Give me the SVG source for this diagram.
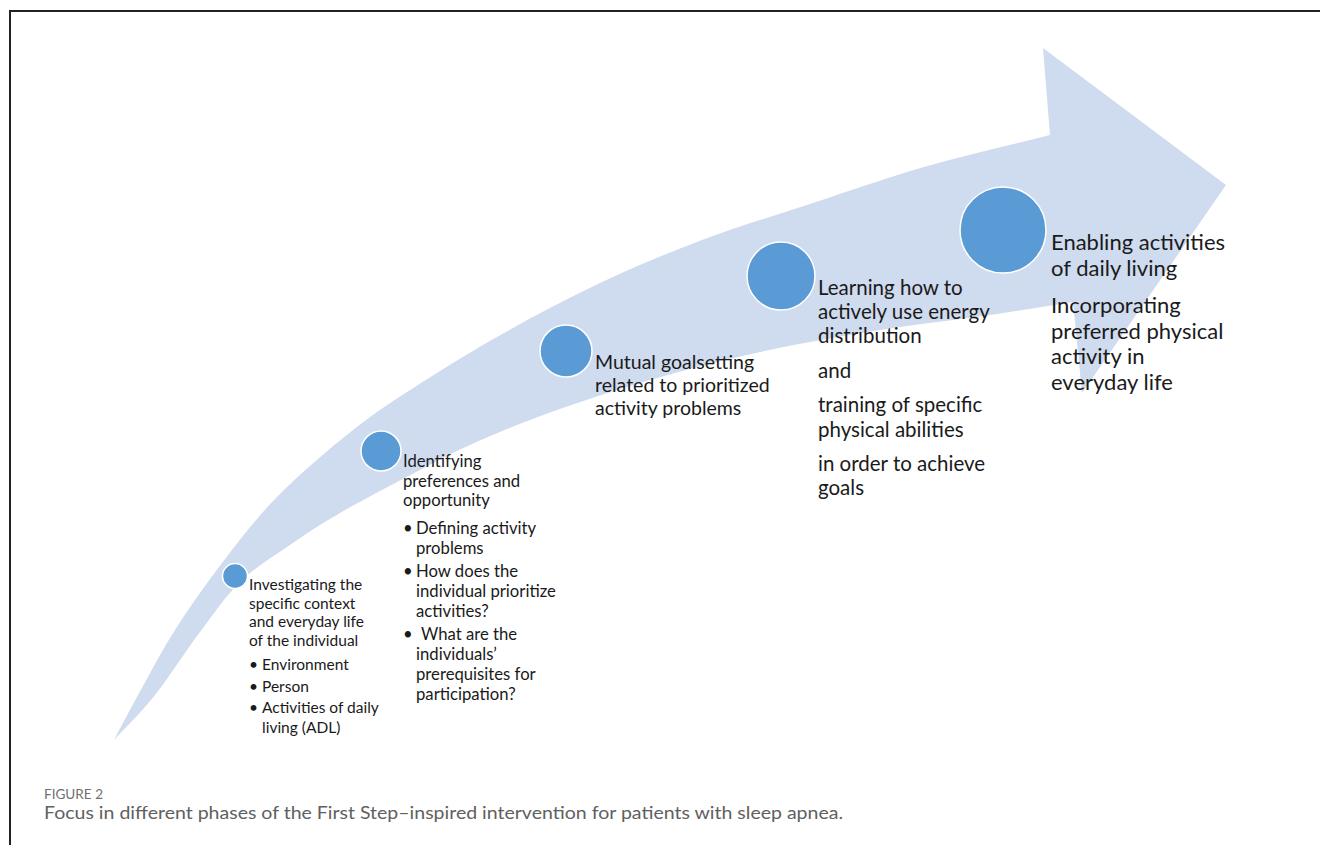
<svg xmlns="http://www.w3.org/2000/svg" width="1320" height="845" viewBox="0 0 1320 845">
  <style>
    .step { fill: #5b9bd5; stroke: #ffffff; stroke-width: 1.5; }
    .lbl { font-family: Lato, "Open Sans", "Liberation Sans", sans-serif; fill: #1a1a1a; }
    .s1 { font-size: 15.5px; }
    .s2 { font-size: 16.7px; }
    .s3 { font-size: 19.5px; }
    .s4 { font-size: 20.5px; }
    .s5 { font-size: 22px; }
    .cap { font-family: Lato, "Liberation Sans", Arial, sans-serif; }
  </style>

  <rect x="0" y="0" width="1320" height="845" fill="#ffffff"/>

  <!-- frame lines along the top and left -->
  <path d="M10,845 V11 H1320" fill="none" stroke="#222222" stroke-width="2"/>

  <!-- curved progress arrow behind the steps -->
  <g id="connectors">
    <path id="progress-arrow" fill="#cfdbee"
      d="M114,740
         C121.7,725.7 126.8,715.3 137,697
         C147.2,678.7 160.8,652.3 175,630
         C189.2,607.7 205,585.2 222,563
         C239,540.8 255.2,519.2 277,497
         C298.8,474.8 329,449 353,430
         C377,411 395.8,399.2 421,383
         C446.2,366.8 474.2,349.7 504,333
         C533.8,316.3 567,298.5 600,283
         C633,267.5 666.5,253.3 702,240
         C737.5,226.7 776,215.2 813,203
         C850,190.8 884.5,178.3 924,167
         C963.5,155.7 1008,145.7 1050,135
         L1043,48 L1226,185 L1082,393 L1073,302
         C1045.3,306.3 1022.2,310.3 990,315
         C957.8,319.7 918.3,323.8 880,330
         C841.7,336.2 798.3,343.7 760,352
         C721.7,360.3 685.7,369.7 650,380
         C614.3,390.3 576,403.2 546,414
         C516,424.8 491,435.7 470,445
         C449,454.3 441.7,458.7 420,470
         C398.3,481.3 362.2,500.2 340,513
         C317.8,525.8 303.7,535.5 287,547
         C270.3,558.5 254.5,567.8 240,582
         C225.5,596.2 214.2,613.2 200,632
         C185.8,650.8 169.3,677 155,695
         C140.7,713 127.7,725 114,740 Z"/>
  </g>

  <!-- step 1 -->
  <g id="step1">
    <circle class="step" cx="235" cy="576" r="12.5"/>
    <text class="lbl s1" x="249" y="590">Investigating the</text>
    <text class="lbl s1" x="249" y="608.5">specific context</text>
    <text class="lbl s1" x="249" y="627">and everyday life</text>
    <text class="lbl s1" x="249" y="645.5">of the individual</text>
    <text class="lbl s1" x="249" y="670">•</text>
    <text class="lbl s1" x="262" y="670">Environment</text>
    <text class="lbl s1" x="249" y="691.5">•</text>
    <text class="lbl s1" x="262" y="691.5">Person</text>
    <text class="lbl s1" x="249" y="713">•</text>
    <text class="lbl s1" x="262" y="713">Activities of daily</text>
    <text class="lbl s1" x="262" y="733">living (ADL)</text>
  </g>

  <!-- step 2 -->
  <g id="step2">
    <circle class="step" cx="381" cy="451" r="20"/>
    <text class="lbl s2" x="403" y="467">Identifying</text>
    <text class="lbl s2" x="403" y="486.5">preferences and</text>
    <text class="lbl s2" x="403" y="506">opportunity</text>
    <text class="lbl s2" x="403" y="534">•</text>
    <text class="lbl s2" x="416" y="534">Defining activity</text>
    <text class="lbl s2" x="416" y="554">problems</text>
    <text class="lbl s2" x="403" y="577">•</text>
    <text class="lbl s2" x="416" y="577">How does the</text>
    <text class="lbl s2" x="416" y="597">individual prioritize</text>
    <text class="lbl s2" x="416" y="617">activities?</text>
    <text class="lbl s2" x="403" y="640">•</text>
    <text class="lbl s2" x="421" y="640">What are the</text>
    <text class="lbl s2" x="416" y="660">individuals’</text>
    <text class="lbl s2" x="416" y="680">prerequisites for</text>
    <text class="lbl s2" x="416" y="700">participation?</text>
  </g>

  <!-- step 3 -->
  <g id="step3">
    <circle class="step" cx="566" cy="351" r="26"/>
    <text class="lbl s3" x="595" y="369">Mutual goalsetting</text>
    <text class="lbl s3" x="595" y="392">related to prioritized</text>
    <text class="lbl s3" x="595" y="415">activity problems</text>
  </g>

  <!-- step 4 -->
  <g id="step4">
    <circle class="step" cx="781" cy="276" r="34"/>
    <text class="lbl s4" x="818" y="295">Learning how to</text>
    <text class="lbl s4" x="818" y="319">actively use energy</text>
    <text class="lbl s4" x="818" y="343">distribution</text>
    <text class="lbl s4" x="818" y="378">and</text>
    <text class="lbl s4" x="818" y="412">training of specific</text>
    <text class="lbl s4" x="818" y="437">physical abilities</text>
    <text class="lbl s4" x="818" y="471">in order to achieve</text>
    <text class="lbl s4" x="818" y="495">goals</text>
  </g>

  <!-- step 5 -->
  <g id="step5">
    <circle class="step" cx="1003" cy="230" r="43"/>
    <text class="lbl s5" x="1051" y="250">Enabling activities</text>
    <text class="lbl s5" x="1051" y="276">of daily living</text>
    <text class="lbl s5" x="1051" y="313">Incorporating</text>
    <text class="lbl s5" x="1051" y="339">preferred physical</text>
    <text class="lbl s5" x="1051" y="364">activity in</text>
    <text class="lbl s5" x="1051" y="390">everyday life</text>
  </g>

  <!-- caption -->
  <g id="caption">
    <text class="cap" x="44" y="799" font-size="13" fill="#707070" textLength="59" lengthAdjust="spacingAndGlyphs">FIGURE 2</text>
    <text class="cap" x="44" y="819" font-size="17" fill="#606060" textLength="799" lengthAdjust="spacingAndGlyphs">Focus in different phases of the First Step–inspired intervention for patients with sleep apnea.</text>
  </g>
</svg>
